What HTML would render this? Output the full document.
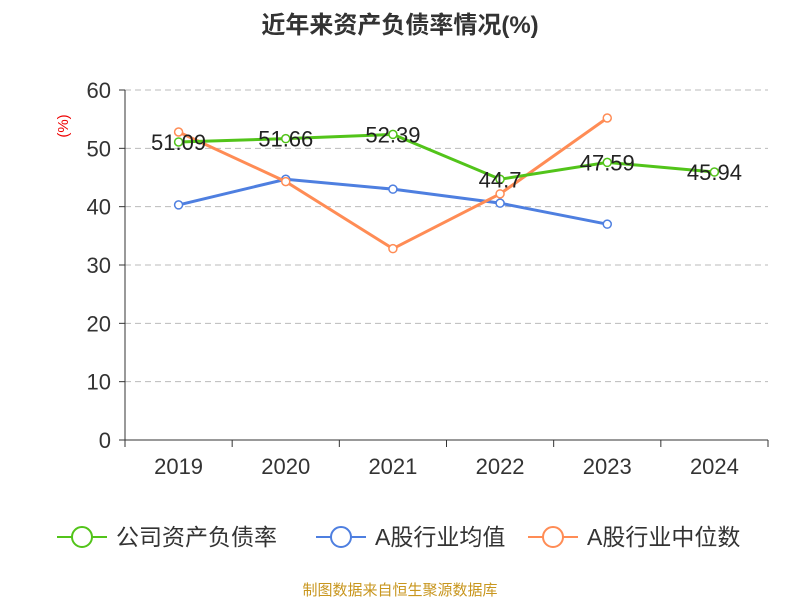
<!DOCTYPE html>
<html><head><meta charset="utf-8"><style>
body{margin:0;background:#fff;}
svg{display:block;font-family:"Liberation Sans","Noto Sans CJK SC",sans-serif;}
</style></head><body>
<svg id="chart" width="800" height="600">
<text x="400" y="33" text-anchor="middle" font-size="24" font-weight="bold" fill="#333">近年来资产负债率情况(%)</text>
<text x="68" y="126" text-anchor="middle" font-size="15" fill="#e00" transform="rotate(-90 68 126)">(%)</text>
<g id="grid"></g><g id="axes"></g><g id="series"></g>
<g>
<g><line x1="57" y1="537" x2="107" y2="537" stroke="#52c41a" stroke-width="2"/><circle cx="82" cy="537" r="10" fill="#fff" stroke="#52c41a" stroke-width="2"/><text x="116" y="545" font-size="23" fill="#333">公司资产负债率</text></g>
<g><line x1="316" y1="537" x2="366" y2="537" stroke="#4e7fe0" stroke-width="2"/><circle cx="341" cy="537" r="10" fill="#fff" stroke="#4e7fe0" stroke-width="2"/><text x="375" y="545" font-size="23" fill="#333">A股行业均值</text></g>
<g><line x1="528" y1="537" x2="578" y2="537" stroke="#ff8c55" stroke-width="2"/><circle cx="553" cy="537" r="10" fill="#fff" stroke="#ff8c55" stroke-width="2"/><text x="587" y="545" font-size="23" fill="#333">A股行业中位数</text></g>
</g>
<text x="400" y="595" text-anchor="middle" font-size="15" fill="#c8961e">制图数据来自恒生聚源数据库</text>
</svg>
<script>
const categories=["2019","2020","2021","2022","2023","2024"];
const yTicks=[0,10,20,30,40,50,60];
const company=[51.09,51.66,52.39,44.7,47.59,45.94];
const companyLabels=["51.09","51.66","52.39","44.7","47.59","45.94"];
const industryAvg=[40.3,44.7,43.0,40.6,37.0,null];
const industryMedian=[52.8,44.3,32.8,42.2,55.2,null];
const NS="http://www.w3.org/2000/svg";
const X0=125,X1=768,Y0=440,Y1=90,YMAX=60;
const band=(X1-X0)/categories.length;
const xs=i=>X0+band*(i+0.5);
const ys=v=>Y0-(v/YMAX)*(Y0-Y1);
function mk(tag,attrs,parent){const e=document.createElementNS(NS,tag);for(const k in attrs)e.setAttribute(k,attrs[k]);parent.appendChild(e);return e;}
const grid=document.getElementById('grid'),axes=document.getElementById('axes'),ser=document.getElementById('series');
yTicks.forEach(t=>{
 if(t>0){const g=mk('line',{x1:X0,x2:X1,y1:ys(t),y2:ys(t),stroke:'#bbb','stroke-dasharray':'6,4'},grid);
 
 }
 const tk=mk('line',{x1:X0-6,x2:X0,y1:ys(t),y2:ys(t),stroke:'#333'},axes);
 
 
 const tx=mk('text',{x:X0-14,y:ys(t)+8,'text-anchor':'end','font-size':22,fill:'#333'},axes);tx.textContent=t;
 
 
});
const ya=mk('line',{x1:X0,x2:X0,y1:Y1,y2:Y0,stroke:'#333'},axes);


const xa=mk('line',{x1:X0,x2:X1,y1:Y0,y2:Y0,stroke:'#333'},axes);


for(let i=0;i<=categories.length;i++){const t=mk('line',{x1:X0+band*i,x2:X0+band*i,y1:Y0,y2:Y0+7,stroke:'#333'},axes);
 
 }
categories.forEach((c,i)=>{const t=mk('text',{x:xs(i),y:Y0+34,'text-anchor':'middle','font-size':22,fill:'#333'},axes);t.textContent=c;
 
 });
function series(vals,color,name){
 const pts=vals.map((v,i)=>v==null?null:[xs(i),ys(v)]).filter(p=>p);
 const l=mk('polyline',{points:pts.map(p=>p.join(',')).join(' '),fill:'none',stroke:color,'stroke-width':3},ser);
 
 
 vals.forEach((v,i)=>{if(v==null)return;const c=mk('circle',{cx:xs(i),cy:ys(v),r:4,fill:'#fff',stroke:color,'stroke-width':1.5},ser);
  
  });
}
series(industryAvg,'#4e7fe0','industry-avg');
series(industryMedian,'#ff8c55','industry-median');
series(company,'#52c41a','company');
company.forEach((v,i)=>{const t=mk('text',{x:xs(i),y:ys(v)+8,'text-anchor':'middle','font-size':22,fill:'#222'},ser);t.textContent=companyLabels[i];
 
 });
</script>
</body></html>
